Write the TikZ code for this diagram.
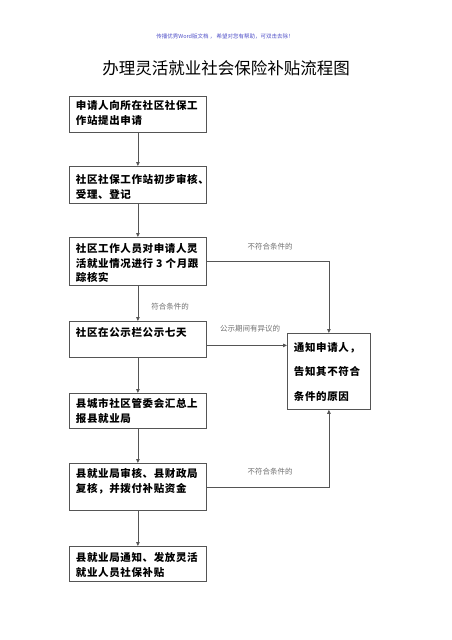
\documentclass[tikz,border=0pt]{standalone}
\usepackage{fontspec}
\usetikzlibrary{arrows.meta}
\newfontfamily\cjk{Noto Sans CJK SC}[LetterSpace=6]
\newfontfamily\cjkplain{Noto Sans CJK SC}
\definecolor{edge}{HTML}{555555}
\definecolor{lbl}{HTML}{707070}
\definecolor{hdr}{HTML}{5050C8}
% width, height, top pad, baselineskip, text
\newcommand{\bt}[5]{\parbox[c][#2][t]{#1}{\vspace*{#3}\leftskip=6.5pt\baselineskip=#4\relax\fontsize{10.5}{#4}\cjk\bfseries #5\par}}
\tikzset{
  stepbox/.style={draw=edge, line width=0.8pt, inner sep=0pt, anchor=north west},
  arr/.style={draw=edge, line width=0.8pt, -{Triangle[length=4pt,width=3.5pt]}},
  lab/.style={text=lbl, font=\cjkplain\fontsize{7.5}{8}\selectfont, inner sep=0pt}
}
\begin{document}
\begin{tikzpicture}[x=1pt,y=-1pt]
\useasboundingbox[fill=white] (0,0) rectangle (452,640);
\node[text=hdr, font=\cjkplain\fontsize{5.5}{6}\selectfont] (hd) at (225,36) {传播优秀Word版文档 ， 希望对您有帮助，可双击去除！};
\node[font=\cjkplain\fontsize{16.5}{18}\selectfont] (ti) at (226,68) {办理灵活就业社会保险补贴流程图};

\node[stepbox] (b1) at (69,96)  {\bt{137pt}{36pt}{4pt}{14.7pt}{申请人向所在社区社保工\\作站提出申请}};
\node[stepbox] (b2) at (69,166) {\bt{137pt}{37pt}{8pt}{14.7pt}{社区社保工作站初步审核、\\受理、登记}};
\node[stepbox] (b3) at (69,237) {\bt{137pt}{48pt}{6pt}{14.6pt}{社区工作人员对申请人灵\\活就业情况进行 3 个月跟\\踪核实}};
\node[stepbox] (b4) at (69,321) {\bt{137pt}{36pt}{6pt}{14.7pt}{社区在公示栏公示七天}};
\node[stepbox] (b5) at (69,393) {\bt{137pt}{35pt}{5pt}{14.7pt}{县城市社区管委会汇总上\\报县就业局}};
\node[stepbox] (b6) at (69,463) {\bt{137pt}{47pt}{5pt}{14.7pt}{县就业局审核、县财政局\\复核，并拨付补贴资金}};
\node[stepbox] (b8) at (69,546) {\bt{137pt}{35pt}{6pt}{14.7pt}{县就业局通知、发放灵活\\就业人员社保补贴}};
\node[stepbox] (b7) at (287,333) {\bt{83pt}{76pt}{9pt}{24.5pt}{通知申请人，\\告知其不符合\\条件的原因}};

\draw[arr] (b1) -- (b2);
\draw[arr] (b2) -- (b3);
\draw[arr] (b3) -- (b4);
\draw[arr] (b4) -- (b5);
\draw[arr] (b5) -- (b6);
\draw[arr] (b6) -- (b8);
\draw[arr] (b3.east) -| (b7.north);
\draw[arr] ([yshift=-6pt]b4.east) -- ([yshift=-6pt]b4.east -| b7.west);
\draw[arr] (b6.east) -| (b7.south);

\node[lab] (l1) at (270,247) {不符合条件的};
\node[lab] (l2) at (170,307) {符合条件的};
\node[lab] (l3) at (250,329) {公示期间有异议的};
\node[lab] (l4) at (270,472) {不符合条件的};
\end{tikzpicture}
\end{document}
